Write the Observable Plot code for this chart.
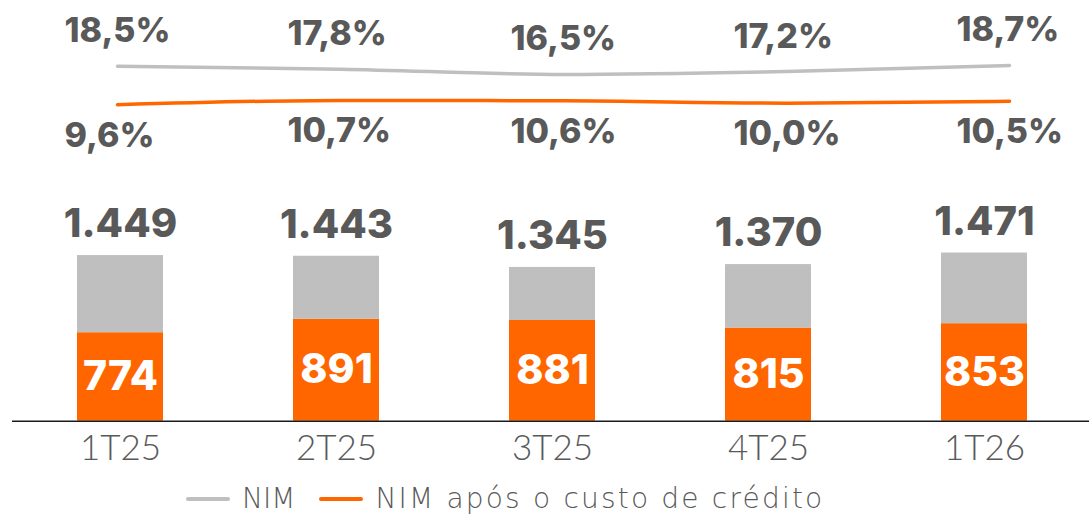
<!DOCTYPE html>
<html>
<head>
<meta charset="utf-8">
<script src="https://cdn.jsdelivr.net/npm/d3@7"></script>
<script src="https://cdn.jsdelivr.net/npm/@observablehq/plot@0.6"></script>
<style>
  html, body { margin: 0; padding: 0; background: #fff; }
  #wrap { position: relative; width: 1089px; height: 519px; font-family: "Lato", "Open Sans", sans-serif; }
  #wrap svg { position: absolute; left: 0; top: 0; }
  #legend { position: absolute; left: 186px; top: 482px; display: flex; align-items: center; font-size: 28px; color: #595959; font-weight: 300; white-space: nowrap; font-family: "DejaVu Sans", sans-serif; }
  .sw { display: inline-block; width: 44px; height: 4px; border-radius: 2px; margin-right: 12px; }
</style>
</head>
<body>
<div id="wrap"></div>
<script>
const categories = ["1T25", "2T25", "3T25", "4T25", "1T26"];
const nimValues = [18.5, 17.8, 16.5, 17.2, 18.7];
const nimAfterCostValues = [9.6, 10.7, 10.6, 10.0, 10.5];
const totalValues = [1449, 1443, 1345, 1370, 1471];
const afterCostValues = [774, 891, 881, 815, 853];
const seriesNames = ["NIM", "NIM após o custo de crédito"];

const ORANGE = "#ff6600";
const GRAY = "#bfbfbf";
const TEXT = "#595959";
const BOLD_FONT = "Inter, Lato, sans-serif";

const ptBR = d3.formatLocale({decimal: ",", thousands: ".", grouping: [3], currency: ["R$", ""]});
const fmtInt = ptBR.format(",d");
const fmtPct = ptBR.format(".1f");

const rows = categories.map((c, i) => ({
  cat: c, nim: nimValues[i], nimAfter: nimAfterCostValues[i],
  total: totalValues[i], after: afterCostValues[i]
}));

const W = 1089, H = 475;
const wrap = document.getElementById("wrap");

// Bars
const bars = Plot.plot({
  width: W, height: H,
  marginTop: 0, marginBottom: H - 420.7, marginLeft: 12, marginRight: 0,
  style: {background: "transparent", fontFamily: "Lato, 'Open Sans', sans-serif"},
  x: {domain: categories, range: [33.6, 1071.6], paddingInner: 0.6, paddingOuter: 0.2, align: 0.5, label: null},
  y: {domain: [0, 3680], axis: null},
  marks: [
    Plot.barY(rows, {x: "cat", y1: 0, y2: "after", fill: ORANGE}),
    Plot.barY(rows, {x: "cat", y1: "after", y2: "total", fill: GRAY}),
    Plot.ruleY([0], {stroke: "#1a1a1a", strokeWidth: 1.5}),
    Plot.text(rows, {x: "cat", y: "total", text: d => fmtInt(d.total), dy: -31, fill: TEXT, fontSize: 40, fontWeight: 800, fontFamily: BOLD_FONT}),
    Plot.text(rows, {x: "cat", y: d => d.after / 2, text: d => fmtInt(d.after), fill: "#ffffff", fontSize: 41, fontWeight: 800, fontFamily: BOLD_FONT}),
    Plot.axisX({tickSize: 0, tickPadding: 14, fontSize: 35, fill: TEXT, fontWeight: 300, label: null})
  ]
});
wrap.appendChild(bars);

// NIM line (gray)
const lineGray = Plot.plot({
  width: W, height: H, margin: 0,
  style: {background: "transparent", fontFamily: BOLD_FONT},
  x: {type: "point", domain: categories, range: [116, 1010], padding: 0, axis: null},
  y: {domain: [0, 20], range: [142.5, 59.5], axis: null},
  marks: [
    Plot.line(rows, {x: "cat", y: "nim", stroke: GRAY, strokeWidth: 3.5, curve: "monotone-x"}),
    Plot.text(rows, {x: "cat", y: "nim", text: d => fmtPct(d.nim) + "%", dy: -35, dx: -53, textAnchor: "start", fill: TEXT, fontSize: 34, fontWeight: 800})
  ]
});
wrap.appendChild(lineGray);

// NIM after credit cost line (orange)
const lineOrange = Plot.plot({
  width: W, height: H, margin: 0,
  style: {background: "transparent", fontFamily: BOLD_FONT},
  x: {type: "point", domain: categories, range: [116, 1010], padding: 0, axis: null},
  y: {domain: [0, 20], range: [142.2, 63.2], axis: null},
  marks: [
    Plot.line(rows, {x: "cat", y: "nimAfter", stroke: ORANGE, strokeWidth: 3.5, curve: "monotone-x"}),
    Plot.text(rows, {x: "cat", y: "nimAfter", text: d => fmtPct(d.nimAfter) + "%", dy: 31, dx: -53, textAnchor: "start", fill: TEXT, fontSize: 34, fontWeight: 800})
  ]
});
wrap.appendChild(lineOrange);

// Legend
const legend = document.createElement("div");
legend.id = "legend";
legend.innerHTML =
  `<span class="sw" style="background:${GRAY}"></span><span style="margin-right:24px">${seriesNames[0]}</span>` +
  `<span class="sw" style="background:${ORANGE}"></span><span style="letter-spacing:2.2px">${seriesNames[1]}</span>`;
wrap.appendChild(legend);
</script>
</body>
</html>
